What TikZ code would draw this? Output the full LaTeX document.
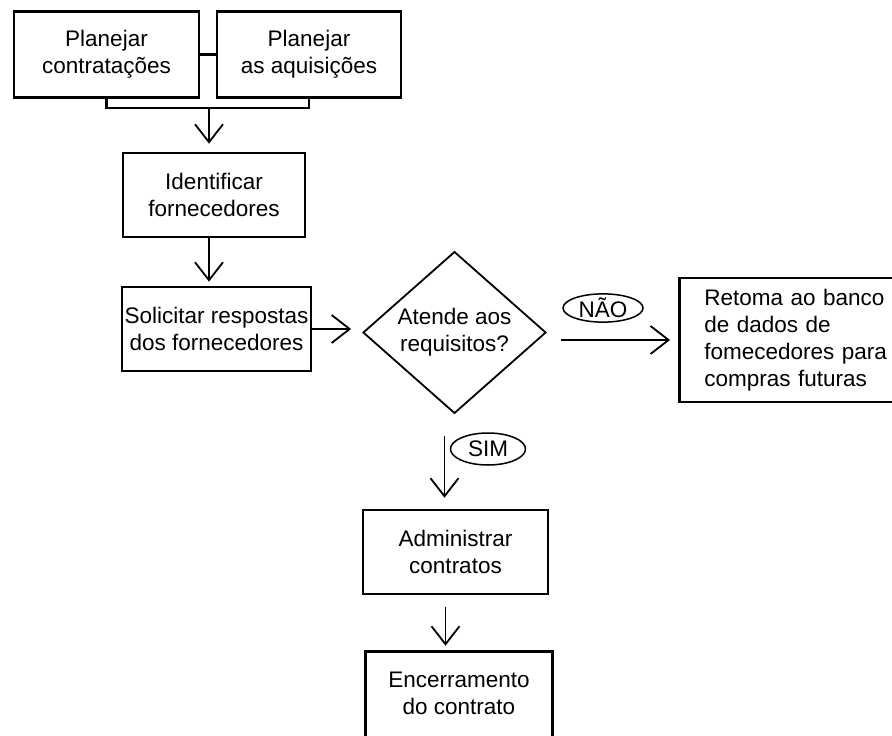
\documentclass[tikz,border=0pt]{standalone}
\usepackage{fontspec}
\setmainfont{Liberation Sans}
\usetikzlibrary{arrows.meta,shapes.geometric}
\tikzset{
  box/.style={draw,line width=2.6pt,inner sep=0pt,align=center,font=\fontsize{22.5}{27}\selectfont},
  decision/.style={draw,diamond,line width=1.8pt,inner sep=0pt,align=center,font=\fontsize{22.5}{27}\selectfont},
  flow/.style={line width=1.8pt,-{Straight Barb[length=18pt,width=28pt]}},
  tag/.style={draw,ellipse,line width=1.5pt,inner sep=0pt,font=\fontsize{22.5}{27}\selectfont},
}

\begin{document}
\begin{tikzpicture}[x=1pt,y=-1pt]
\useasboundingbox (0,0) rectangle (892,736);
% planning
\node[box,minimum width=185,minimum height=86] (pc) at (106.5,54.5) {Planejar\\contratações};
\node[box,minimum width=184,minimum height=86] (pa) at (309,54.5) {Planejar\\as aquisições};
\draw[line width=2.6pt] (pc.east) -- (pa.west);
\coordinate (join) at (209,108);
\draw[line width=2.6pt] (pc.south) |- (join) -| (pa.south);
% suppliers
\node[box,minimum width=182,minimum height=84] (idf) at (214,195) {Identificar\\fornecedores};
\node[box,minimum width=189,minimum height=84] (sol) at (216.5,329) {Solicitar respostas\\dos fornecedores};
\draw[flow,shorten >=8pt] (join) -- (join |- idf.north);
\draw[flow,shorten >=4pt] (idf.south -| join) -- (sol.north -| join);
% decision
\node[decision,minimum width=183,minimum height=149] (dec) at (454.5,332.5) {Atende aos\\requisitos?};
\draw[flow,shorten >=11pt] (sol.east) -- (sol.east -| dec.west);
\node[box,align=left,anchor=west,text width=190,inner xsep=25pt,minimum height=124] (ret) at (678,340)
  {Retoma ao banco\\de dados de\\fomecedores para\\compras futuras};
\draw[flow,shorten <=14pt,shorten >=8pt] (dec.east |- ret) -- (ret.west);
\node[tag,minimum width=80,minimum height=24] (nao) at (603,308) {NÃO};
% contract
\node[box,minimum width=185,minimum height=84] (adm) at (455.5,552) {Administrar\\contratos};
\node[box,draw=none,minimum width=184,minimum height=80] (enc) at (459,693) {Encerramento\\do contrato};
\draw[line width=2.6pt] ([yshift=-20pt]enc.south west) |- (enc.north east) -- ([yshift=-20pt]enc.south east);
\draw[flow,shorten <=22pt,shorten >=11pt] ([xshift=-10pt]dec.south) -- ([xshift=-10pt]dec.south |- adm.north);
\node[tag,minimum width=75,minimum height=32] (sim) at (488,449) {SIM};
\draw[flow,shorten <=12pt,shorten >=6pt] ([xshift=-10pt]adm.south) -- ([xshift=-10pt]adm.south |- enc.north);
\end{tikzpicture}
\end{document}
